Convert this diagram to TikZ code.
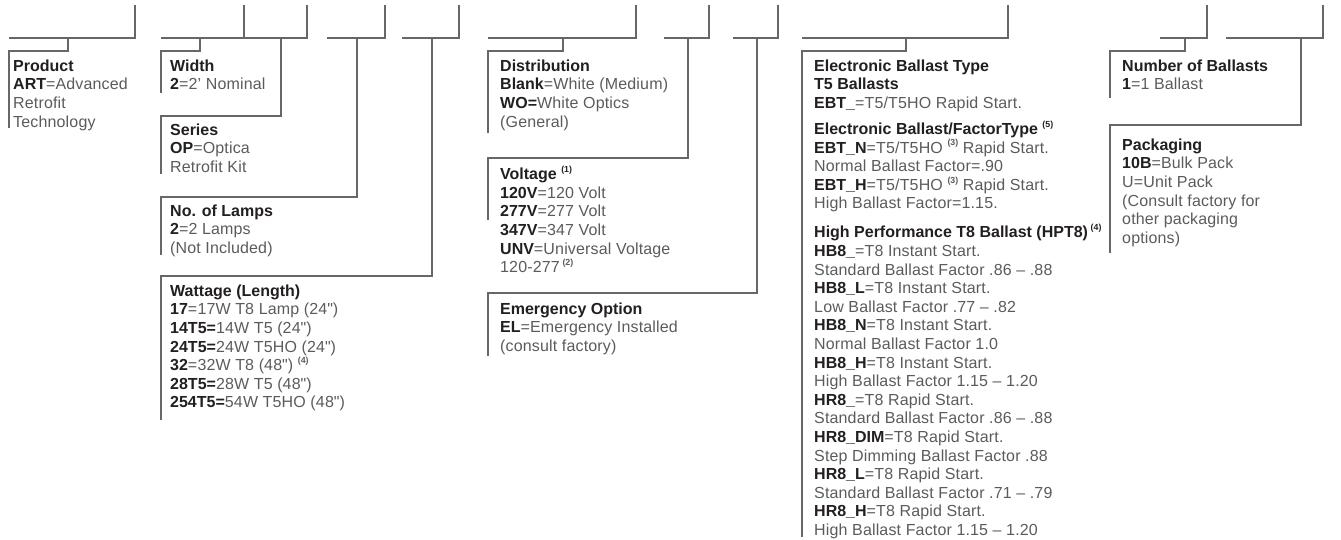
\documentclass[tikz,border=0pt]{standalone}
\usepackage{fontspec}
\setmainfont{Liberation Sans}[LetterSpace=1.0]
\newfontfamily\hdfont{Liberation Sans Bold}
\definecolor{hd}{HTML}{231F20}
\definecolor{bd}{HTML}{5A5B5D}
\definecolor{ln}{HTML}{66676A}
\newcommand{\hb}[1]{{\hdfont\color{hd}#1}}
\newcommand{\mysup}[1]{\raisebox{0.45em}{\fontsize{8.8}{8.8}\hdfont(#1)}}
\newcommand{\dq}{\textquotedbl}
\tikzset{
  wire/.style={draw=ln, line width=1.4pt},
  blk/.style={anchor=north west, inner sep=0pt, align=left,
    font=\fontsize{16}{18.6}\selectfont, text=bd}
}
\begin{document}
\begin{tikzpicture}[x=1pt,y=-1pt]
\useasboundingbox (0,0) rectangle (1341,539);
% segment 1
\draw[wire] (9,38) coordinate (a1) -- (135,38) coordinate (a2) -- (135,5) coordinate (a3);
\draw[wire] (68,38) coordinate (a4) -- (68,51) -- (9,51) -- (9,128) coordinate (a5);
% segment 2
\draw[wire] (161,38) -- (307,38) -- (307,5);
\draw[wire] (244,38) -- (244,5);
\draw[wire] (200,38) -- (200,51) -- (161,51) -- (161,93);
\draw[wire] (281,38) -- (281,116) -- (161,116) -- (161,174);
% segment 3
\draw[wire] (327,38) -- (385,38) -- (385,5);
\draw[wire] (357,38) -- (357,197) -- (161,197) -- (161,255);
% segment 4
\draw[wire] (402,38) -- (459,38) -- (459,5);
\draw[wire] (432,38) -- (432,276) -- (161,276) -- (161,420);
% segment 5
\draw[wire] (488,38) -- (636,38) -- (636,5);
\draw[wire] (563,38) -- (563,51) -- (488,51) -- (488,133);
% segment 6
\draw[wire] (664,38) -- (709,38) -- (709,5);
\draw[wire] (688,38) -- (688,158) -- (488,158) -- (488,220);
% segment 7
\draw[wire] (733,38) -- (778,38) -- (778,5);
\draw[wire] (757,38) -- (757,293) -- (488,293) -- (488,356);
% segment 8
\draw[wire] (802,38) -- (1008,38) -- (1008,5);
\draw[wire] (906,38) -- (906,51) -- (802,51) -- (802,537);
% segment 9
\draw[wire] (1160,38) -- (1207,38) -- (1207,5);
\draw[wire] (1185,38) -- (1185,51) -- (1110,51) -- (1110,98);
% segment 10
\draw[wire] (1226,38) -- (1323,38) -- (1323,5);
\draw[wire] (1301,38) -- (1301,125) -- (1110,125) -- (1110,253);

\node[blk] (prod) at (13,57.98) {\strut\hb{Product}\\\hb{ART}=Advanced\\Retrofit\\Technology};
\node[blk] (width) at (170,57.98) {\strut\hb{Width}\\\hb{2}=2’ Nominal};
\node[blk] (series) at (170,121.98) {\strut\hb{Series}\\\hb{OP}=Optica\\Retrofit Kit};
\node[blk] (lamps) at (170,202.98) {\strut\hb{No. of Lamps}\\\hb{2}=2 Lamps\\(Not Included)};
\node[blk] (watt) at (170,282.98) {\strut\hb{Wattage (Length)}\\\hb{17}=17W T8 Lamp (24\dq)\\\hb{14T5=}14W T5 (24\dq)\\\hb{24T5=}24W T5HO (24\dq)\\\hb{32}=32W T8 (48\dq) \mysup{4}\\\hb{28T5=}28W T5 (48\dq)\\\hb{254T5=}54W T5HO (48\dq)};
\node[blk] (dist) at (500,57.98) {\strut\hb{Distribution}\\\hb{Blank}=White (Medium)\\\hb{WO=}White Optics\\(General)};
\node[blk] (volt) at (500,165.98) {\strut\hb{Voltage \mysup{1}}\\\hb{120V}=120 Volt\\\hb{277V}=277 Volt\\\hb{347V}=347 Volt\\\hb{UNV}=Universal Voltage\\120-277\,\mysup{2}};
\node[blk] (emerg) at (500,300.98) {\strut\hb{Emergency Option}\\\hb{EL}=Emergency Installed\\(consult factory)};
\node[blk] (ebt) at (814,57.98) {\strut\hb{Electronic Ballast Type}\\\hb{T5 Ballasts}\\\hb{EBT\_}=T5/T5HO Rapid Start.\\[7.4pt]
\hb{Electronic Ballast/FactorType \mysup{5}}\\\hb{EBT\_N}=T5/T5HO \mysup{3} Rapid Start.\\Normal Ballast Factor=.90\\\hb{EBT\_H}=T5/T5HO \mysup{3} Rapid Start.\\High Ballast Factor=1.15.\\[10.4pt]
\hb{High Performance T8 Ballast (HPT8)\,\mysup{4}}\\\hb{HB8\_}=T8 Instant Start.\\Standard Ballast Factor .86 – .88\\\hb{HB8\_L}=T8 Instant Start.\\Low Ballast Factor .77 – .82\\\hb{HB8\_N}=T8 Instant Start.\\Normal Ballast Factor 1.0\\\hb{HB8\_H}=T8 Instant Start.\\High Ballast Factor 1.15 – 1.20\\\hb{HR8\_}=T8 Rapid Start.\\Standard Ballast Factor .86 – .88\\\hb{HR8\_DIM}=T8 Rapid Start.\\Step Dimming Ballast Factor .88\\\hb{HR8\_L}=T8 Rapid Start.\\Standard Ballast Factor .71 – .79\\\hb{HR8\_H}=T8 Rapid Start.\\High Ballast Factor 1.15 – 1.20};
\node[blk] (nball) at (1122,57.98) {\strut\hb{Number of Ballasts}\\\hb{1}=1 Ballast};
\node[blk] (pack) at (1122,136.98) {\strut\hb{Packaging}\\\hb{10B}=Bulk Pack\\U=Unit Pack\\(Consult factory for\\other packaging\\options)};
\end{tikzpicture}
\end{document}
